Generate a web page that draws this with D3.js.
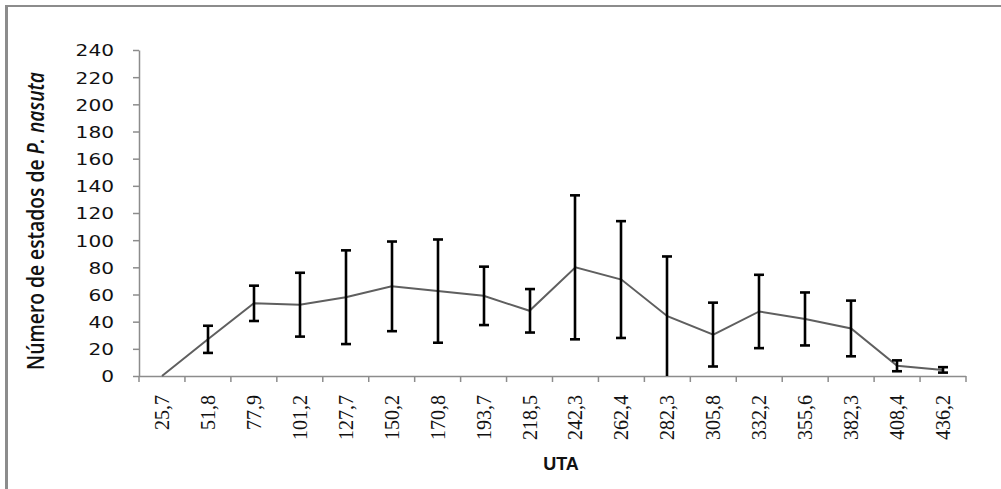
<!DOCTYPE html>
<html>
<head>
<meta charset="utf-8">
<script src="https://cdn.jsdelivr.net/npm/d3@7"></script>
<style>
  html, body { margin: 0; padding: 0; background: #fff; }
  svg { display: block; }
</style>
</head>
<body>
<svg id="chart" width="1001" height="489"></svg>
<script>
// UTA classes along the x axis
const categories = ["25,7", "51,8", "77,9", "101,2", "127,7", "150,2", "170,8", "193,7", "218,5",
  "242,3", "262,4", "282,3", "305,8", "332,2", "355,6", "382,3", "408,4", "436,2"];
// Mean number of P. nasuta stages per class
const means = [0, 27, 53.5, 52.5, 58, 66, 62.5, 59, 48, 80, 71, 44, 30.5, 47.5, 42, 35, 7.5, 4.5];
// Error (± deviation) per class; null where no bar is drawn
const errors = [null, 10, 13, 23.5, 34.5, 33, 38, 21.5, 16, 53, 43, 44, 23.5, 27, 19.5, 20.5, 4, 2];
// Y axis ticks
const yTicks = [0, 20, 40, 60, 80, 100, 120, 140, 160, 180, 200, 220, 240];

const svg = d3.select("#chart");
const plot = { left: 139, right: 966, top: 50, bottom: 376 };

// outer frame (top and left edges)
svg.append("line").attr("x1", 6).attr("x2", 1001).attr("y1", 6).attr("y2", 6)
  .attr("stroke", "#8c8c8c").attr("stroke-width", 2);
svg.append("line").attr("x1", 6.5).attr("x2", 6.5).attr("y1", 5).attr("y2", 489)
  .attr("stroke", "#8c8c8c").attr("stroke-width", 3);

const x = d3.scaleBand().domain(categories).range([plot.left, plot.right]);
const y = d3.scaleLinear().domain([0, 240]).range([plot.bottom, plot.top]);
const cx = d => x(d) + x.bandwidth() / 2;

// Y axis
const yAxis = svg.append("g").attr("transform", `translate(${plot.left},0)`)
  .call(d3.axisLeft(y).tickValues(yTicks).tickSize(6).tickPadding(19).tickSizeOuter(0));
yAxis.select(".domain").attr("stroke", "#8c8c8c").attr("stroke-width", 1.5);
yAxis.selectAll(".tick line").attr("stroke", "#8c8c8c").attr("stroke-width", 1.5);
yAxis.selectAll(".tick text")
  .attr("font-family", "'DejaVu Sans', sans-serif").attr("font-size", 16.5)
  .attr("fill", "#111").attr("dy", "0.36em")
  .each(function () {
    // slightly wide digits, right-aligned against the tick
    const bb = this.getBBox();
    d3.select(this).attr("textLength", bb.width * 1.22).attr("lengthAdjust", "spacingAndGlyphs");
  });

// X axis: ticks at category boundaries
const xAxisG = svg.append("g");
xAxisG.append("line").attr("x1", plot.left).attr("x2", plot.right)
  .attr("y1", plot.bottom + 0.5).attr("y2", plot.bottom + 0.5)
  .attr("stroke", "#8c8c8c").attr("stroke-width", 1.5);
const bounds = categories.map(c => x(c)).concat([plot.right]);
xAxisG.selectAll("line.tick").data(bounds).join("line").attr("class", "tick")
  .attr("x1", d => d).attr("x2", d => d)
  .attr("y1", plot.bottom).attr("y2", plot.bottom + 6)
  .attr("stroke", "#8c8c8c").attr("stroke-width", 1.5);
xAxisG.selectAll("text.lab").data(categories).join("text").attr("class", "lab")
  .attr("transform", d => `translate(${cx(d) + 7},395) rotate(-90)`)
  .attr("text-anchor", "end")
  .attr("font-family", "'Liberation Serif', serif").attr("font-size", 20)
  .attr("fill", "#111")
  .text(d => d);

// Mean line
const line = d3.line().x((d, i) => cx(categories[i])).y(d => y(d));
svg.append("path").datum(means).attr("d", line)
  .attr("fill", "none").attr("stroke", "#5f5f5f").attr("stroke-width", 2);

// Error bars
const eb = svg.append("g");
categories.forEach((c, i) => {
  const e = errors[i];
  if (e == null) return;
  const xc = Math.round(cx(c));
  const lo = Math.max(0, means[i] - e), hi = means[i] + e;
  const g = eb.append("g").attr("stroke", "#000").attr("stroke-width", 2.6);
  g.append("line").attr("x1", xc).attr("x2", xc).attr("y1", y(lo)).attr("y2", y(hi));
  g.append("line").attr("x1", xc - 5).attr("x2", xc + 5).attr("y1", y(hi)).attr("y2", y(hi));
  if (means[i] - e > 0)
    g.append("line").attr("x1", xc - 5).attr("x2", xc + 5).attr("y1", y(lo)).attr("y2", y(lo));
});

// Y axis title with italic species name
const fsT = 17;
const yt = svg.append("text")
  .attr("text-anchor", "middle")
  .attr("font-family", "'Open Sans', sans-serif").attr("font-weight", 600).attr("font-size", fsT)
  .attr("fill", "#111");
yt.append("tspan").text("Número de estados de ");
yt.append("tspan").attr("font-style", "italic").text("P. nasuta");
{
  const w = yt.node().getBBox().width;
  const sy = 16.5 / (0.714 * fsT);
  yt.attr("transform", `translate(44,221) rotate(-90) scale(${298 / w},${sy})`);
}

// X axis title
svg.append("text").attr("x", 561).attr("y", 470).attr("text-anchor", "middle")
  .attr("font-family", "'Liberation Sans', Arial, sans-serif").attr("font-weight", "bold")
  .attr("font-size", 18).attr("fill", "#111").text("UTA");
</script>
</body>
</html>
